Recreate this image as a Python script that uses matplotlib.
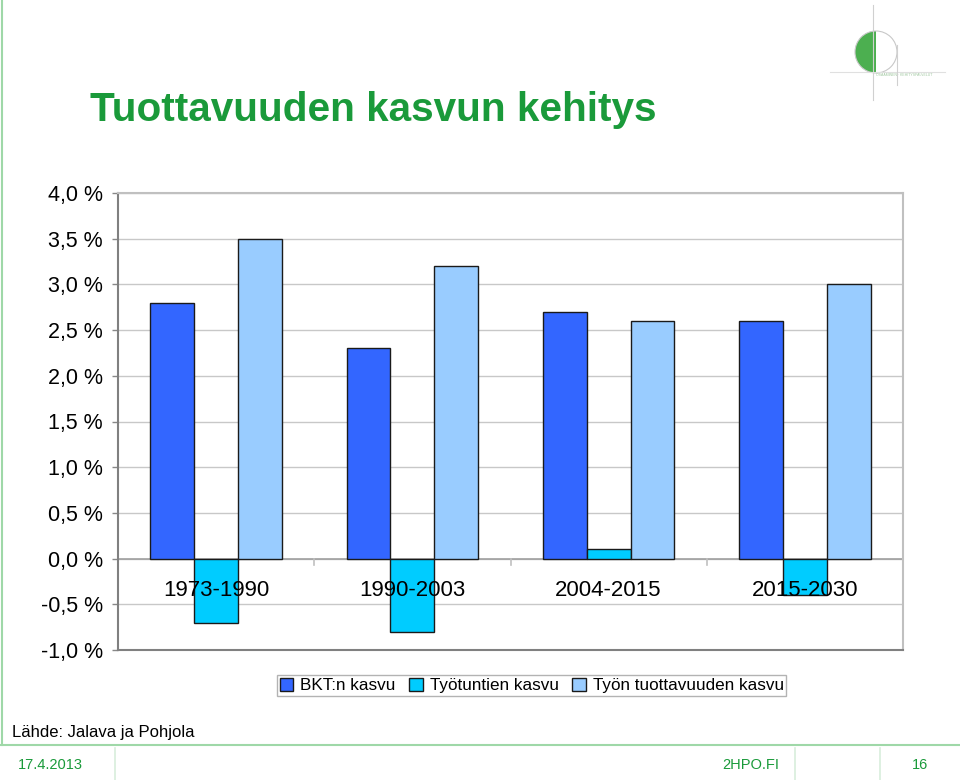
import matplotlib.pyplot as plt
import numpy as np
from matplotlib.patches import Wedge, Circle
from matplotlib.lines import Line2D

plt.rcParams["font.family"] = ["Liberation Sans", "DejaVu Sans"]

periods = ["1973-1990", "1990-2003", "2004-2015", "2015-2030"]
bkt = [2.8, 2.3, 2.7, 2.6]
tyotunnit = [-0.7, -0.8, 0.1, -0.4]
tuottavuus = [3.5, 3.2, 2.6, 3.0]
series_names = ["BKT:n kasvu", "Työtuntien kasvu", "Työn tuottavuuden kasvu"]
colors = ["#3366FF", "#00CCFF", "#99CCFF"]
yticks = [-1.0, -0.5, 0.0, 0.5, 1.0, 1.5, 2.0, 2.5, 3.0, 3.5, 4.0]

green = "#1a9a3a"

fig = plt.figure(figsize=(9.6, 7.8), dpi=100)
W, H = 960, 780

# plot area in pixel coords: x 118..903, y 193..650
ax = fig.add_axes([118 / W, 1 - 650 / H, (903 - 118) / W, (650 - 193) / H])

x = np.arange(len(periods))
bw = 0.223
for i, vals in enumerate([bkt, tyotunnit, tuottavuus]):
    ax.bar(x + (i - 1) * bw, vals, bw, color=colors[i], edgecolor="#1a1a1a",
           linewidth=1.0, label=series_names[i], zorder=3)

ax.set_xlim(-0.5, len(periods) - 0.5)
ax.set_ylim(-1.0, 4.0)
ax.set_yticks(yticks)
ax.set_yticklabels([f"{v:.1f} %".replace(".", ",") for v in yticks], fontsize=15.5)
ax.tick_params(axis="y", length=4, width=1, color="#888888", pad=7)
ax.set_xticks([])
ax.grid(axis="y", color="#c8c8c8", linewidth=1, zorder=0)

for s in ["top", "right"]:
    ax.spines[s].set_color("#c0c0c0")
    ax.spines[s].set_linewidth(1.5)
for s in ["left", "bottom"]:
    ax.spines[s].set_color("#808080")
    ax.spines[s].set_linewidth(1.5)

# zero line with category separators
ax.axhline(0, color="#a0a0a0", linewidth=1.2, zorder=2)
for b in np.arange(0.5, len(periods) - 0.5, 1.0):
    ax.plot([b, b], [0, -0.07], color="#c0c0c0", linewidth=1.2, zorder=2)

for xi, p in zip(x, periods):
    ax.text(xi, -0.35, p, ha="center", va="center", fontsize=16, zorder=4)

leg = ax.legend(loc="upper center", bbox_to_anchor=(0.527, -0.055), ncol=3,
                fontsize=12.3, frameon=True, fancybox=False, edgecolor="#a0a0a0",
                handlelength=0.8, handleheight=0.8, handletextpad=0.4,
                columnspacing=0.8, borderpad=0.15, borderaxespad=0)
for h in leg.legend_handles:
    h.set_edgecolor("#1a1a1a")

# title
fig.text(90 / W, 1 - 110 / H, "Tuottavuuden kasvun kehitys", color=green,
         fontsize=29.2, fontweight="bold", va="center", ha="left")

fig.text(12 / W, 1 - 733 / H, "Lähde: Jalava ja Pohjola", fontsize=12,
         va="center", ha="left")

# slide frame lines
fig.add_artist(Line2D([2 / W, 2 / W], [1 - 745 / H, 1], color="#9fd8a8", lw=1.5))
fig.add_artist(Line2D([0, 1], [1 - 745 / H, 1 - 745 / H], color="#9fd8a8", lw=1.5))
for xp in [115, 795, 880]:
    fig.add_artist(Line2D([xp / W, xp / W], [0, 1 - 748 / H], color="#d8eedb", lw=1.2))

fig.text(18 / W, 1 - 765 / H, "17.4.2013", color=green, fontsize=10.5, va="center")
fig.text(751 / W, 1 - 765 / H, "2HPO.FI", color=green, fontsize=10.5, va="center", ha="center")
fig.text(920 / W, 1 - 765 / H, "16", color=green, fontsize=10.5, va="center", ha="center")

# logo approximation
lax = fig.add_axes([820 / W, 1 - 110 / H, 140 / W, 110 / H])
lax.set_xlim(0, 140)
lax.set_ylim(110, 0)
lax.axis("off")
lax.add_patch(Wedge((56, 52), 21, 90, 270, facecolor="#4caf50", edgecolor="none"))
lax.add_patch(Circle((56, 52), 21, facecolor="none", edgecolor="#c8c8c8", lw=0.8))
lax.plot([53, 53], [5, 100], color="#d0d0d0", lw=0.8)
lax.plot([10, 125], [72, 72], color="#e0e0e0", lw=0.8)
lax.plot([77, 77], [45, 85], color="#d0d0d0", lw=0.8)
lax.text(56, 76, "OSAAMINEN · KEHITYSPALVELUT", fontsize=2.5, color="#a0c8a0")

fig.savefig("out.png", dpi=100)
